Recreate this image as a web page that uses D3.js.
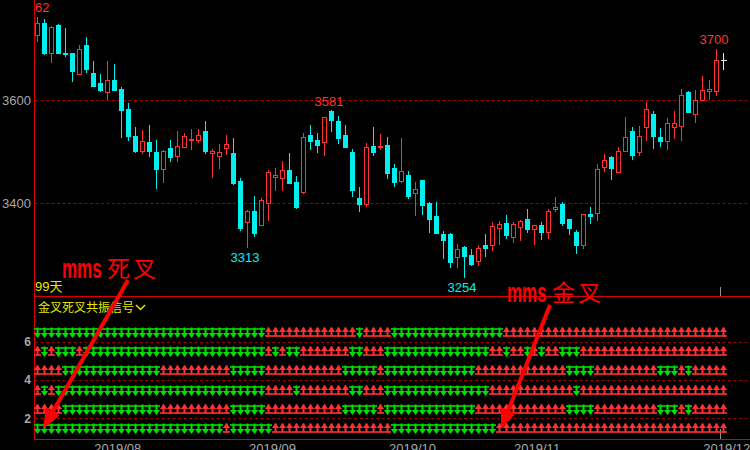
<!DOCTYPE html>
<html><head><meta charset="utf-8">
<script src="https://cdn.jsdelivr.net/npm/d3@7"></script>
<style>html,body{margin:0;padding:0;background:#000;overflow:hidden}</style>
</head><body>
<svg id="c" width="750" height="450"></svg>
<script>
// ---- data ----
const openV  = [3727.5,3749.5,3691.9,3746.3,3691.9,3691.9,3650.5,3707.4,3653.1,3633.7,3616.8,3639.5,3622.0,3583.2,3530.7,3502.3,3519.1,3499.7,3467.3,3508.1,3492.5,3510.0,3522.3,3522.3,3540.4,3497.1,3492.5,3508.1,3497.7,3443.4,3364.4,3385.1,3357.9,3401.3,3450.5,3449.8,3464.7,3441.4,3422.7,3532.7,3523.0,3519.7,3579.5,3559.9,3532.7,3499.7,3411.0,3399.4,3511.3,3510.0,3513.3,3468.6,3444.0,3455.0,3420.7,3445.3,3400.6,3375.4,3340.4,3340.4,3296.4,3315.2,3299.7,3288.7,3319.1,3319.7,3352.7,3361.8,3335.3,3354.7,3369.6,3349.5,3357.9,3345.0,3389.6,3398.7,3369.6,3344.3,3319.7,3379.9,3381.9,3469.9,3490.0,3461.5,3502.3,3540.4,3500.3,3548.9,3573.5,3528.8,3521.7,3548.9,3550.8,3616.2,3574.1,3601.3,3617.5,3618.8,3677.7];
const highV  = [3762,3757.3,3744,3747.6,3739.8,3692.5,3707.4,3722.3,3676.4,3650.5,3676.4,3670.5,3625.2,3594.2,3547.6,3542.4,3552.1,3522.0,3503.6,3522.0,3540.4,3537.2,3544.3,3544.3,3559.9,3504.8,3514.6,3532.0,3526.2,3448.5,3387.0,3414.2,3409.7,3464.7,3468.6,3482.2,3497.1,3453.1,3536.6,3552.1,3536.6,3568.2,3581,3569.6,3552.1,3504.8,3431.7,3516.5,3548.2,3534.6,3528.8,3476.4,3526.9,3462.8,3441.4,3445.8,3402.6,3402.6,3346.3,3342.4,3321.0,3317.8,3311.3,3318.4,3340.4,3363.7,3365.7,3377.3,3363.7,3367.6,3389.0,3357.8,3363.7,3389.0,3412.3,3402.6,3370,3348.2,3379,3392.9,3476.4,3495.8,3491.9,3509.4,3567.6,3548.2,3550.2,3596.8,3579.3,3546.3,3565.7,3579.3,3622.0,3618.1,3620.1,3647.2,3639.5,3700,3691.9];
const lowV   = [3713.9,3687.4,3672.5,3691.3,3684.8,3636.2,3650,3652.4,3628,3615.5,3600.6,3618.1,3526.2,3521.7,3498.4,3495.8,3489.3,3427.2,3440.1,3480.9,3480.9,3508.1,3503.6,3516.5,3495.8,3449.8,3466.0,3493.8,3436.2,3346.9,3313,3335.3,3356.0,3366.3,3423.9,3423.9,3439.5,3389.0,3418.1,3503.6,3498.4,3492.5,3539.1,3515.9,3508.1,3413.0,3383.8,3393.5,3492.5,3503.6,3447.9,3432.4,3440.1,3409.1,3376.1,3378.0,3343.0,3341.1,3292.6,3275.1,3275.1,3254,3278.3,3278.3,3296.4,3308.1,3319.1,3331.4,3323.6,3327.5,3343.0,3319.7,3329.4,3331.4,3383.8,3356.6,3339.1,3302.3,3312.0,3360.5,3366.3,3460.8,3445.9,3461,3500.3,3484.8,3492.5,3521.7,3506.2,3510.0,3504.2,3525.6,3521.7,3575.4,3556.6,3601,3600.6,3609.1,3658.9];
const closeV = [3749.5,3692.6,3742.4,3692.6,3689.3,3657.6,3699.0,3661.5,3628.5,3620.7,3639.5,3620.7,3581.9,3531.4,3502.3,3521.0,3502.3,3467.3,3501.6,3490.6,3511.3,3530.7,3524.9,3532.0,3501.6,3501.0,3499.0,3514.6,3438.8,3352.1,3385.1,3343.0,3406.5,3460.2,3455.0,3464.1,3440.1,3393.5,3528.8,3521.7,3513.3,3567.6,3561.8,3527.5,3510.0,3426.5,3399.4,3509.4,3500.3,3512.0,3459.5,3442.1,3462.1,3414.9,3427.2,3397.4,3370.2,3343.0,3329.4,3286.7,3310.7,3298.4,3282.8,3312.6,3313.9,3355.3,3359.2,3339.1,3359.8,3365.0,3350.8,3357.3,3345.0,3385.1,3392.9,3362.4,3352.7,3319.7,3378.6,3376.0,3466.0,3483.5,3469.3,3501.6,3528.8,3494.5,3530.7,3583.2,3531.4,3521.7,3556.0,3556.0,3610.4,3577.3,3600.6,3620.1,3622.0,3678.3,3677.7];

const priceTicks = [3400, 3600];
const signalTicks = [2, 4, 6];
const monthLabels = ["2019/08", "2019/09", "2019/10", "2019/11", "2019/12"];
const monthPos = [11.4, 33.5, 53.5, 71.3, 98.4];
const extremeLabels = [
  {i: 0, v: 3762, kind: "high"},
  {i: 42, v: 3581, kind: "high"},
  {i: 97, v: 3700, kind: "high"},
  {i: 30, v: 3313, kind: "low"},
  {i: 61, v: 3254, kind: "low"}
];
// resonance signals: 1 = red up arrow, 0 = green down arrow
const signalLevels = [6.5, 5.5, 4.5, 3.5, 2.5, 1.5];
const signalRows = [
  "0000000000"+"0000000000"+"0000000000"+"0001111111"+"1111110111"+"1000000000"+"0000000111"+"1111111111"+"1111111111"+"111111111",
  "1010001000"+"0000000000"+"0000000000"+"0001010011"+"1111100111"+"0000000000"+"0000011011"+"0101100011"+"1111111111"+"111111111",
  "1111000000"+"0000000011"+"1111111100"+"0001111111"+"1111000001"+"0000000000"+"0001111111"+"1111110000"+"1111111110"+"001011111",
  "1010000000"+"0000000000"+"0000000000"+"0001111011"+"1111100111"+"0000000000"+"0000011111"+"1111111011"+"1111111111"+"111111111",
  "1111000000"+"0000000011"+"1111111100"+"0001111111"+"1111000001"+"0000000000"+"0001111111"+"1111110000"+"1111111110"+"001011111",
  "0000000000"+"0000000000"+"0000000100"+"0000111111"+"1111111111"+"1000000000"+"0000001111"+"1111111111"+"1111111111"+"111111111"
];

// ---- drawing ----
const RED = "#ff3232", CYAN = "#00f0f0", GREEN = "#00e000", AXRED = "#d80000", GRID = "#a00000", GRAY = "#a8a8a8", YEL = "#e8e800";
const svg = d3.select("#c");
svg.append("rect").attr("width", 750).attr("height", 450).attr("fill", "#000");
const n = openV.length;
const x = d3.scaleLinear().domain([0, n - 1]).range([37.5, 723.5]);
const y = d3.scaleLinear().domain([3400, 3600]).range([203.3, 100.3]);
const ys = d3.scaleLinear().domain([2, 6]).range([418.3, 341.7]);

const defs = svg.append("defs");
defs.append("clipPath").attr("id", "mainClip").append("rect").attr("x", 35).attr("y", 0).attr("width", 715).attr("height", 296);

// grid
svg.append("g").selectAll("line").data(priceTicks).join("line")
  .attr("x1", 35).attr("x2", 750).attr("y1", d => Math.round(y(d)) + 0.5).attr("y2", d => Math.round(y(d)) + 0.5)
  .attr("stroke", GRID).attr("stroke-dasharray", "3,2.5");
svg.append("g").selectAll("line").data(signalTicks).join("line")
  .attr("x1", 35).attr("x2", 750).attr("y1", d => Math.round(ys(d)) + 0.5).attr("y2", d => Math.round(ys(d)) + 0.5)
  .attr("stroke", GRID).attr("stroke-dasharray", "3,2.5");

// axes
const yAx = svg.append("g").attr("transform", "translate(33,0)")
  .call(d3.axisLeft(y).tickValues(priceTicks).tickSize(0).tickPadding(2).tickFormat(d3.format("d")));
const ysAx = svg.append("g").attr("transform", "translate(33,0)")
  .call(d3.axisLeft(ys).tickValues(signalTicks).tickSize(0).tickPadding(2).tickFormat(d3.format("d")));
const xAx = svg.append("g").attr("transform", "translate(0,441)")
  .call(d3.axisBottom(x).tickValues(monthPos).tickSize(0).tickPadding(3).tickFormat((d, k) => monthLabels[k]));
[yAx, ysAx, xAx].forEach(g => {
  g.select(".domain").remove();
  g.selectAll("text").attr("fill", GRAY).attr("font-family", "Liberation Sans, Arial, sans-serif").attr("font-size", 13);
});
ysAx.selectAll("text").attr("font-weight", "bold").attr("font-size", 12);

// frame lines
svg.append("line").attr("x1", 34.5).attr("x2", 34.5).attr("y1", 0).attr("y2", 440).attr("stroke", AXRED);
svg.append("line").attr("x1", 34).attr("x2", 750).attr("y1", 296.5).attr("y2", 296.5).attr("stroke", AXRED);
svg.append("line").attr("x1", 34).attr("x2", 750).attr("y1", 439.5).attr("y2", 439.5).attr("stroke", AXRED);
svg.append("line").attr("x1", 720.5).attr("x2", 720.5).attr("y1", 287).attr("y2", 296).attr("stroke", "#909090");
svg.append("line").attr("x1", 720.5).attr("x2", 720.5).attr("y1", 429).attr("y2", 439).attr("stroke", "#909090");

// candles
const main = svg.append("g").attr("clip-path", "url(#mainClip)").attr("shape-rendering", "crispEdges");
const idx = d3.range(n);
main.selectAll("g.c").data(idx).join("g").each(function(i) {
  const g = d3.select(this);
  const o = openV[i], c = closeV[i], h = highV[i], l = lowV[i];
  const cx = x(i);
  const top = Math.round(y(Math.max(o, c))), bot = Math.round(y(Math.min(o, c)));
  const yh = Math.round(y(h)), yl = Math.round(y(l));
  if (c > o) {
    g.append("line").attr("x1", cx).attr("x2", cx).attr("y1", yh).attr("y2", top).attr("stroke", RED);
    g.append("line").attr("x1", cx).attr("x2", cx).attr("y1", bot).attr("y2", yl).attr("stroke", RED);
    g.append("rect").attr("x", cx - 2).attr("y", top + 0.5).attr("width", 4).attr("height", Math.max(1, bot - top))
      .attr("fill", "#000").attr("stroke", RED);
  } else if (c < o) {
    g.append("line").attr("x1", cx).attr("x2", cx).attr("y1", yh).attr("y2", yl).attr("stroke", CYAN);
    g.append("rect").attr("x", cx - 2.5).attr("y", top).attr("width", 5).attr("height", Math.max(2, bot - top + 1)).attr("fill", CYAN);
  } else {
    g.append("line").attr("x1", cx).attr("x2", cx).attr("y1", yh).attr("y2", yl).attr("stroke", "#e8e8e8");
    g.append("line").attr("x1", cx - 3).attr("x2", cx + 3).attr("y1", top + 0.5).attr("y2", top + 0.5).attr("stroke", "#e8e8e8");
  }
});

// extreme labels
main.append("g").selectAll("text").data(extremeLabels).join("text")
  .attr("x", d => x(d.i) - 2.5)
  .attr("y", d => d.kind === "high" ? y(d.v) - 4.5 : y(d.v) + 13.5)
  .attr("text-anchor", "middle")
  .attr("fill", d => d.kind === "high" ? RED : CYAN)
  .attr("font-family", "Liberation Sans, Arial, sans-serif").attr("font-size", 13)
  .text(d => d.v);

// texts
svg.append("text").attr("x", 35).attr("y", 291).attr("fill", YEL).attr("font-size", 13)
  .attr("font-family", "Liberation Sans, Noto Sans CJK SC, sans-serif").text("99天");
svg.append("text").attr("x", 38).attr("y", 311.5).attr("fill", YEL).attr("font-size", 12)
  .attr("font-family", "Noto Sans CJK SC, sans-serif").text("金叉死叉共振信号");
svg.append("path").attr("d", "M136,305 L140.5,309.5 L145,305").attr("fill", "none").attr("stroke", YEL).attr("stroke-width", 1.5);

// signal arrows
const sg = svg.append("g");
signalRows.forEach((row, r) => {
  const cy = Math.round(ys(signalLevels[r])) + 0.5;
  row.split("").forEach((s, i) => {
    const up = s === "1";
    const col = up ? RED : GREEN;
    const cx = x(i);
    const t = up ? -1 : 1;
    sg.append("line").attr("x1", cx - 3.5).attr("x2", cx + 3.5).attr("y1", cy - t * 3.5).attr("y2", cy - t * 3.5)
      .attr("stroke", col).attr("stroke-width", 1.6);
    sg.append("line").attr("x1", cx).attr("x2", cx).attr("y1", cy - 5).attr("y2", cy + 4).attr("stroke", col).attr("stroke-width", 2);
    sg.append("path").attr("d", `M${cx - 3.6},${cy + t * 0.5} L${cx + 3.6},${cy + t * 0.5} L${cx},${cy + t * 5.5} Z`)
      .attr("fill", col);
  });
});

// annotations
function bigArrow(x1, y1, x2, y2) {
  const dx = x2 - x1, dy = y2 - y1, L = Math.hypot(dx, dy);
  const ux = dx / L, uy = dy / L, px = -uy, py = ux;
  const hl = 20, hw = 8;
  const bx = x2 - ux * hl, by = y2 - uy * hl;
  svg.append("line").attr("x1", x1).attr("y1", y1).attr("x2", bx + ux * 2).attr("y2", by + uy * 2)
    .attr("stroke", "#ff0000").attr("stroke-width", 4);
  svg.append("path").attr("d", `M${x2},${y2} L${bx + px * hw},${by + py * hw} L${bx - px * hw},${by - py * hw} Z`).attr("fill", "#ff0000");
}
bigArrow(128, 280, x(0) + 5.5, ys(1.45));
bigArrow(550, 305, x(66) + 1.5, ys(1.45));

function mmsLabel(x0, base, cjk) {
  svg.append("text").attr("transform", `translate(${x0},${base}) scale(1,1.6)`).attr("fill", "#ff0000")
    .attr("font-weight", "bold").attr("font-family", "Liberation Sans, Arial, sans-serif").attr("font-size", 17)
    .text("mms");
  svg.append("text").attr("x", x0 + 45).attr("y", base - 1).attr("fill", "#ff0000")
    .attr("font-family", "Noto Sans CJK SC, sans-serif").attr("font-size", 23).attr("letter-spacing", 3).text(cjk);
}
mmsLabel(62, 278, "死叉");
mmsLabel(507, 302, "金叉");
</script>
</body></html>
